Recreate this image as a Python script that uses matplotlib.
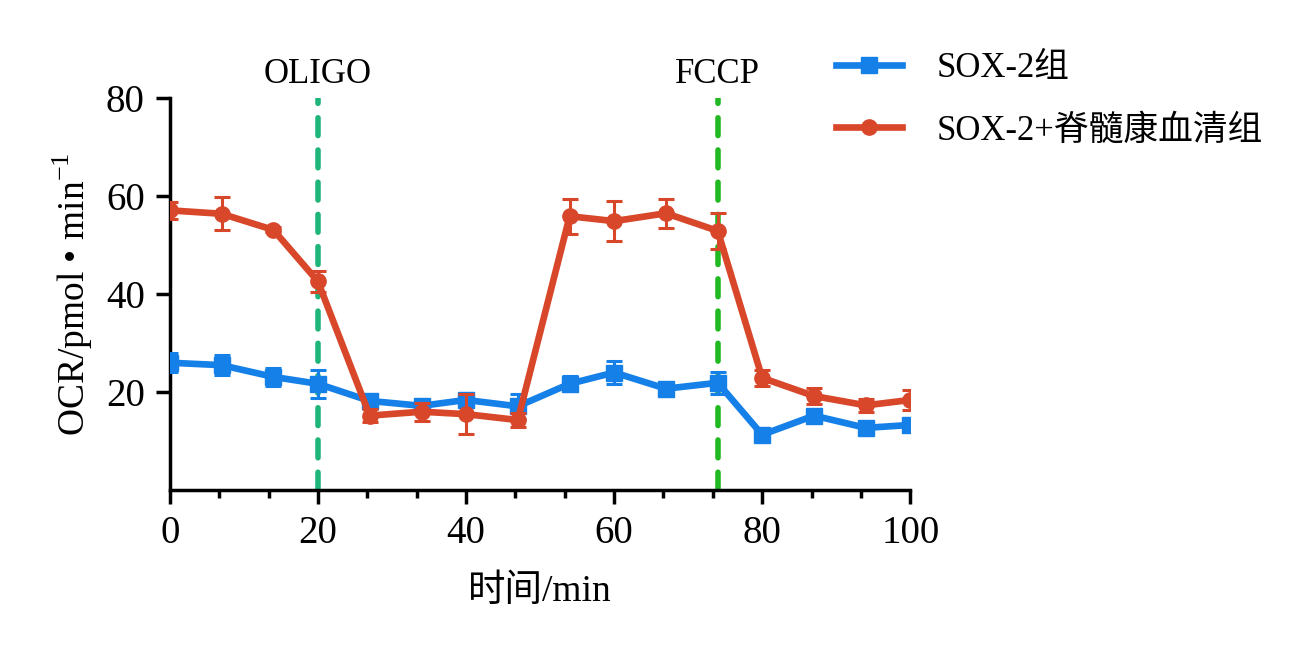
import matplotlib
matplotlib.use("Agg")
import matplotlib.pyplot as plt
from matplotlib.ticker import MultipleLocator
from matplotlib.lines import Line2D

plt.rcParams['font.family'] = ['Liberation Serif', 'Noto Sans CJK SC', 'DejaVu Serif']
plt.rcParams['mathtext.fontset'] = 'custom'
plt.rcParams['mathtext.rm'] = 'Liberation Serif'

# 时间点 (min)
time = [0, 7, 14, 20, 27, 34, 40, 47, 54, 60, 67, 74, 80, 87, 94, 100]

# SOX-2组
sox2 = [26.0, 25.5, 23.1, 21.7, 18.2, 17.2, 18.4, 17.1, 21.7, 24.0, 20.7, 21.9, 11.3, 15.2, 12.7, 13.3]
sox2_err = [1.9, 2.0, 1.9, 2.8, 0.8, 0.9, 1.2, 2.6, 1.5, 2.3, 1.0, 2.3, 0.6, 0.7, 0.6, 0.6]

# SOX-2+脊髓康血清组
combo = [57.1, 56.4, 53.1, 42.6, 15.2, 16.0, 15.5, 14.3, 55.9, 54.9, 56.5, 52.9, 22.9, 19.2, 17.3, 18.4]
combo_err = [1.7, 3.4, 0.5, 2.2, 1.3, 1.8, 4.1, 1.5, 3.6, 4.1, 3.0, 3.7, 1.7, 1.6, 1.3, 2.1]

labels = ['SOX-2组', 'SOX-2+脊髓康血清组']
events = [20, 74]
event_names = ['OLIGO', 'FCCP']
event_colors = ['#1fb57a', '#22b822']

blue = '#1580e8'
red = '#d9472b'

fig = plt.figure(figsize=(13.06, 6.5), dpi=100)
ax = fig.add_axes([0.130, 0.246, 0.567, 0.603])

# 加药时间点
for xv, name, col in zip(events, event_names, event_colors):
    ax.axvline(xv, color=col, lw=4, ls=(0, (3.2, 2.6)), dash_capstyle='round', zorder=1)
    ax.text(xv, 81.5, name, ha='center', va='bottom', fontsize=25)

ax.errorbar(time, sox2, yerr=sox2_err, color=blue, lw=4.8, marker='s', ms=11,
            capsize=6, capthick=2.2, elinewidth=2.2, zorder=3)
ax.errorbar(time, combo, yerr=combo_err, color=red, lw=4.8, marker='o', ms=11,
            capsize=6, capthick=2.2, elinewidth=2.2, zorder=4)

ax.set_xlim(0, 100)
ax.set_ylim(0, 80)
ax.xaxis.set_major_locator(MultipleLocator(20))
ax.xaxis.set_minor_locator(MultipleLocator(20 / 3))
ax.set_yticks([20, 40, 60, 80])

for s in ['top', 'right']:
    ax.spines[s].set_visible(False)
for s in ['left', 'bottom']:
    ax.spines[s].set_linewidth(2.5)

ax.tick_params(axis='both', which='major', length=10, width=2.5, labelsize=28, pad=8)
ax.tick_params(axis='x', which='minor', length=5.5, width=2.5)

ax.set_xlabel('时间/min', fontsize=27, labelpad=16)
ax.set_ylabel('OCR/pmol • min$^{-1}$', fontsize=27, labelpad=8)

handles = [Line2D([], [], color=blue, lw=4.8, marker='s', ms=11),
           Line2D([], [], color=red, lw=4.8, marker='o', ms=11)]
fig.legend(handles, labels, loc='upper left', bbox_to_anchor=(0.616, 0.968),
           frameon=False, fontsize=25, handlelength=1.9, handletextpad=1.0,
           labelspacing=0.85)

fig.savefig('out.png', dpi=100)
